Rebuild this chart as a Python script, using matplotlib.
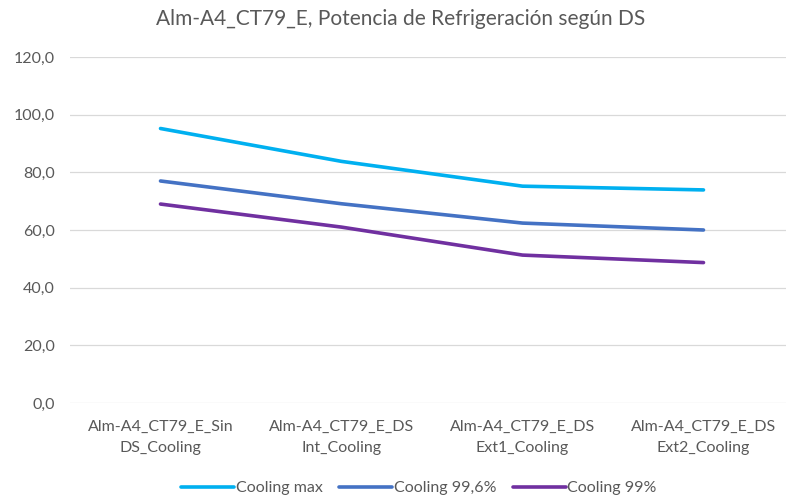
import numpy as np
import matplotlib.pyplot as plt

plt.rcParams['font.family'] = ['Lato', 'DejaVu Sans']

categorias = ["Alm-A4_CT79_E_Sin\nDS_Cooling", "Alm-A4_CT79_E_DS\nInt_Cooling",
              "Alm-A4_CT79_E_DS\nExt1_Cooling", "Alm-A4_CT79_E_DS\nExt2_Cooling"]
cooling_max = [95.2, 83.8, 75.2, 73.9]
cooling_996 = [77.0, 69.1, 62.4, 60.0]
cooling_99 = [69.0, 61.0, 51.3, 48.7]
yticks = [0, 20, 40, 60, 80, 100, 120]

fig = plt.figure(figsize=(7.86, 5.01), dpi=100)
ax = fig.add_axes([70/786, 1-403/501, 724/786, 346/501])

x = np.arange(len(categorias))
ax.plot(x, cooling_max, color="#00B0F0", lw=2.6, solid_capstyle="round", label="Cooling max")
ax.plot(x, cooling_996, color="#4472C4", lw=2.6, solid_capstyle="round", label="Cooling 99,6%")
ax.plot(x, cooling_99, color="#7030A0", lw=2.6, solid_capstyle="round", label="Cooling 99%")

ax.set_xlim(-0.5, 3.5)
ax.set_ylim(0, 120)
ax.set_yticks(yticks)
ax.set_yticklabels([f"{v:.1f}".replace(".", ",") for v in yticks])
ax.set_xticks(x)
ax.set_xticklabels(categorias, linespacing=1.7)
ax.grid(axis="y", color="#D9D9D9", lw=0.9)
ax.set_axisbelow(True)
for s in ax.spines.values():
    s.set_visible(False)
ax.tick_params(length=0, labelsize=11.5, colors="#595959", pad=12)
ax.tick_params(axis="y", pad=11)

fig.suptitle("Alm-A4_CT79_E, Potencia de Refrigeración según DS", x=401/786, y=0.982,
             fontsize=15, color="#595959")

leg = fig.legend(loc="center", bbox_to_anchor=(419/786, 1-488/501), ncol=3, frameon=False,
                 handlelength=3.3, handletextpad=0.1, columnspacing=1.05, fontsize=11.5)
for t in leg.get_texts():
    t.set_color("#595959")

fig.savefig("out.png")
